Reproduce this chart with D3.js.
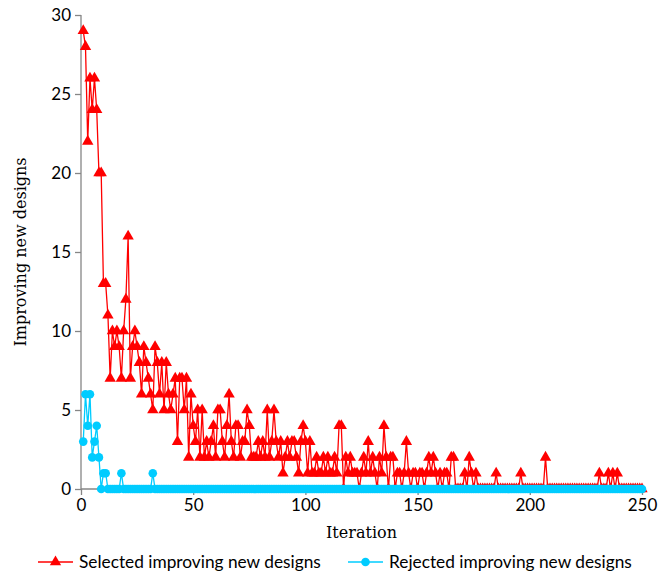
<!DOCTYPE html>
<html>
<head>
<meta charset="utf-8">
<script src="https://cdn.jsdelivr.net/npm/d3@7"></script>
<style>
  body { margin: 0; background: #fff; }
  .tick text { font-family: Lato, "Liberation Sans", sans-serif; font-size: 17px; fill: #000; }
  .axis-title { font-family: "DejaVu Serif", serif; font-size: 16px; fill: #000; }
  .legend text { font-family: Lato, "Liberation Sans", sans-serif; font-size: 17.3px; fill: #000; }
</style>
</head>
<body>
<script>
//Series names
var seriesNames = ["Selected improving new designs", "Rejected improving new designs"];

//Selected improving new designs, iteration 1..250
var selected = [
  29,28,22,26,24,26,24,20,20,13, 13,11,7,10,9,10,9,7,10,12,
  16,7,9,10,9,8,6,9,8,7, 6,5,9,8,6,8,5,8,6,5,
  6,7,3,7,7,5,7,2,6,4, 3,5,2,5,2,3,2,3,4,2,
  5,5,3,2,4,6,3,2,4,4, 2,3,3,5,4,2,2,2,3,2,
  3,2,5,2,3,5,3,2,3,1, 2,3,2,3,3,2,1,3,4,3,
  1,3,1,1,2,1,1,2,1,2, 1,1,2,1,4,4,0,2,1,2,
  1,1,1,0,1,2,1,3,1,2, 1,0,2,1,4,2,0,2,2,0,
  1,1,0,1,3,1,0,1,1,0, 1,1,0,1,2,1,2,1,0,1,
  0,1,1,0,2,2,0,0,0,0, 1,0,2,1,0,1,0,0,0,0,
  0,0,0,0,1,0,0,0,0,0, 0,0,0,0,0,1,0,0,0,0,
  0,0,0,0,0,0,2,0,0,0, 0,0,0,0,0,0,0,0,0,0,
  0,0,0,0,0,0,0,0,0,0, 1,0,0,0,1,0,1,0,1,0,
  0,0,0,0,0,0,0,0,0,0
];

//Rejected improving new designs, iteration 1..250 (non-zero part; rest are 0)
var rejectedHead = [3,6,4,6,2,3,4,2,0,1, 1,0,0,0,0,0,0,1,0,0, 0,0,0,0,0,0,0,0,0,0, 0,1];
var rejected = rejectedHead.concat(d3.range(250 - rejectedHead.length).map(function(){ return 0; }));

//Axis ticks
var xTicks = [0, 50, 100, 150, 200, 250];
var yTicks = [0, 5, 10, 15, 20, 25, 30];

var width = 672, height = 577;
var margin = {left: 81, right: 30, top: 15, bottom: 88};

var svg = d3.select("body").append("svg")
    .attr("width", width)
    .attr("height", height);

var x = d3.scaleLinear().domain([0, 250]).range([margin.left, width - margin.right]);
var y = d3.scaleLinear().domain([0, 30]).range([height - margin.bottom, margin.top]);

//Axes
var xAxis = svg.append("g")
    .attr("transform", "translate(0," + y(0) + ")")
    .call(d3.axisBottom(x).tickValues(xTicks).tickSize(6).tickPadding(4).tickFormat(d3.format("d")));
var yAxis = svg.append("g")
    .attr("transform", "translate(" + x(0) + ",0)")
    .call(d3.axisLeft(y).tickValues(yTicks).tickSize(6).tickPadding(4).tickFormat(d3.format("d")));
[xAxis, yAxis].forEach(function(a){
  a.selectAll("path, line").attr("stroke", "#868686").attr("stroke-width", 1.3);
  a.select(".domain").attr("d", a === xAxis
      ? "M" + x(0) + ",0H" + x(250)
      : "M0," + y(0) + "V" + y(30));
});

//Axis titles
svg.append("text").attr("class", "axis-title")
    .attr("x", (x(0) + x(250)) / 2).attr("y", 538)
    .attr("text-anchor", "middle")
    .text("Iteration");
svg.append("text").attr("class", "axis-title")
    .attr("transform", "translate(26," + ((y(0) + y(30)) / 2) + ") rotate(-90)")
    .attr("text-anchor", "middle")
    .text("Improving new designs");

var line = d3.line()
    .x(function(d, i){ return x(i + 1); })
    .y(function(d){ return y(d); });

var red = "#ff0000", blue = "#00ccff";
var tri = d3.symbol().type(d3.symbolTriangle).size(56);
var dot = d3.symbol().type(d3.symbolCircle).size(58);

//Selected series
svg.append("path").datum(selected)
    .attr("d", line).attr("fill", "none")
    .attr("stroke", red).attr("stroke-width", 1.3);
svg.append("g").selectAll("path").data(selected).join("path")
    .attr("d", tri)
    .attr("transform", function(d, i){ return "translate(" + x(i + 1) + "," + y(d) + ")"; })
    .attr("fill", red);

//Rejected series
svg.append("path").datum(rejected)
    .attr("d", line).attr("fill", "none")
    .attr("stroke", blue).attr("stroke-width", 1.3);
svg.append("g").selectAll("path").data(rejected).join("path")
    .attr("d", dot)
    .attr("transform", function(d, i){ return "translate(" + x(i + 1) + "," + y(d) + ")"; })
    .attr("fill", blue);

//Legend
var legend = svg.append("g").attr("class", "legend");
var legendItems = [
  {name: seriesNames[0], color: red, sym: tri, x0: 38},
  {name: seriesNames[1], color: blue, sym: dot, x0: 348}
];
legendItems.forEach(function(it){
  var g = legend.append("g").attr("transform", "translate(" + it.x0 + ",562)");
  g.append("line").attr("x1", 0).attr("x2", 35).attr("y1", 0).attr("y2", 0)
      .attr("stroke", it.color).attr("stroke-width", 1.3);
  g.append("path").attr("d", it.sym).attr("transform", "translate(17.5,0)").attr("fill", it.color);
  g.append("text").attr("x", 41).attr("y", 0).attr("dy", "0.35em").text(it.name);
});
</script>
</body>
</html>
